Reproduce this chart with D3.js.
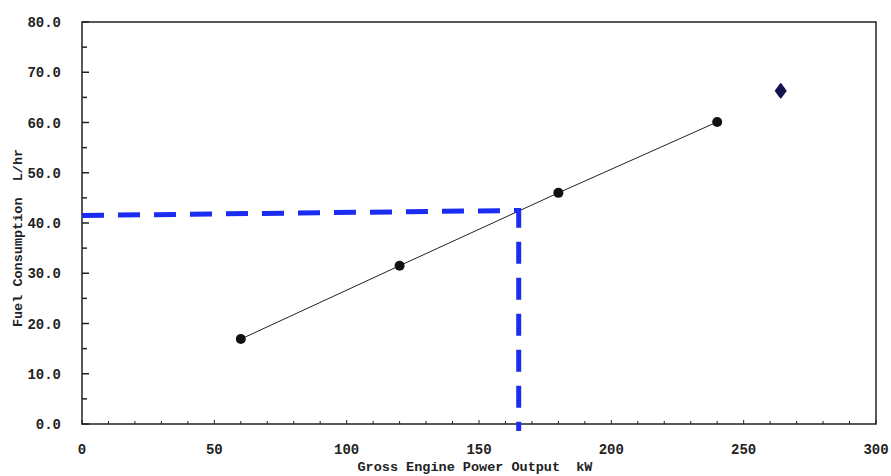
<!DOCTYPE html>
<html>
<head>
<meta charset="utf-8">
<script src="https://cdn.jsdelivr.net/npm/d3@7"></script>
<style>
  body { margin: 0; background: #fff; }
  text { font-family: "Liberation Mono", "DejaVu Sans Mono", monospace; font-weight: bold; fill: #222; }
</style>
</head>
<body>
<svg id="chart" width="891" height="476"></svg>
<script>
// measured points on the fuel curve
var powerKw = [60, 120, 180, 240];
var fuelLhr = [16.9, 31.5, 46.0, 60.1];
// lone point off the line
var extraPoint = [264, 66.3];
// reading guide (blue dashes)
var guideX = [0, 165, 165];
var guideY = [41.5, 42.5, -1.4];
var yTicks = [0, 10, 20, 30, 40, 50, 60, 70, 80];
var xTicks = [0, 50, 100, 150, 200, 250, 300];

var svg = d3.select("#chart");
var plotL = 82, plotR = 876, plotT = 22, plotB = 424;

var x = d3.scaleLinear().domain([0, 300]).range([plotL, plotR]);
var y = d3.scaleLinear().domain([0, 80]).range([plotB, plotT]);

// frame
svg.append("rect")
  .attr("x", plotL).attr("y", plotT)
  .attr("width", plotR - plotL).attr("height", plotB - plotT)
  .attr("fill", "none").attr("stroke", "#222").attr("stroke-width", 1.5);

// y axis ticks (inward)
var yMinor = d3.range(0, 81, 5);
svg.selectAll(".yt").data(yMinor).enter().append("line")
  .attr("x1", plotL).attr("x2", function(d){ return plotL + (d % 10 == 0 ? 7 : 5) })
  .attr("y1", function(d){ return y(d) }).attr("y2", function(d){ return y(d) })
  .attr("stroke", "#222").attr("stroke-width", 1.5);

svg.selectAll(".yl").data(yTicks).enter().append("text")
  .attr("x", 61).attr("y", function(d){ return y(d) + 5 })
  .attr("text-anchor", "end").attr("font-size", 14)
  .text(function(d){ return d.toFixed(1) });

// x axis ticks (inward)
var xMinor = d3.range(0, 301, 10);
svg.selectAll(".xt").data(xMinor).enter().append("line")
  .attr("x1", function(d){ return x(d) }).attr("x2", function(d){ return x(d) })
  .attr("y1", plotB).attr("y2", function(d){ return plotB - (d % 50 == 0 ? 4 : 3) })
  .attr("stroke", "#222").attr("stroke-width", 1);

svg.selectAll(".xl").data(xTicks).enter().append("text")
  .attr("x", function(d){ return x(d) }).attr("y", 454)
  .attr("text-anchor", "middle").attr("font-size", 14)
  .text(function(d){ return d });

// axis titles
svg.append("text")
  .attr("x", 475).attr("y", 471)
  .attr("text-anchor", "middle").attr("font-size", 13.5)
  .attr("xml:space", "preserve")
  .text("Gross Engine Power Output  kW");

svg.append("text")
  .attr("transform", "translate(22,238) rotate(-90)")
  .attr("text-anchor", "middle").attr("font-size", 13.5)
  .attr("xml:space", "preserve")
  .text("Fuel Consumption  L/hr");

// fuel line
var pts = powerKw.map(function(d, i){ return [d, fuelLhr[i]] });
svg.append("path")
  .attr("d", d3.line().x(function(d){ return x(d[0]) }).y(function(d){ return y(d[1]) })(pts))
  .attr("fill", "none").attr("stroke", "#222").attr("stroke-width", 1);

svg.selectAll(".pt").data(pts).enter().append("circle")
  .attr("cx", function(d){ return x(d[0]) }).attr("cy", function(d){ return y(d[1]) })
  .attr("r", 5).attr("fill", "#111");

svg.append("path")
  .attr("transform", "translate(" + x(extraPoint[0]) + "," + y(extraPoint[1]) + ") scale(1.25,1)")
  .attr("d", d3.symbol().type(d3.symbolDiamond).size(55)())
  .attr("fill", "#141450").attr("stroke", "#141450").attr("stroke-width", 1.5)
  .attr("stroke-linejoin", "round");

// blue guide
var guide = guideX.map(function(d, i){ return [d, guideY[i]] });
svg.append("path")
  .attr("d", d3.line().x(function(d){ return x(d[0]) }).y(function(d){ return y(d[1]) })(guide))
  .attr("fill", "none").attr("stroke", "#1a2cf0").attr("stroke-width", 5)
  .attr("stroke-dasharray", "22,14");
</script>
</body>
</html>
